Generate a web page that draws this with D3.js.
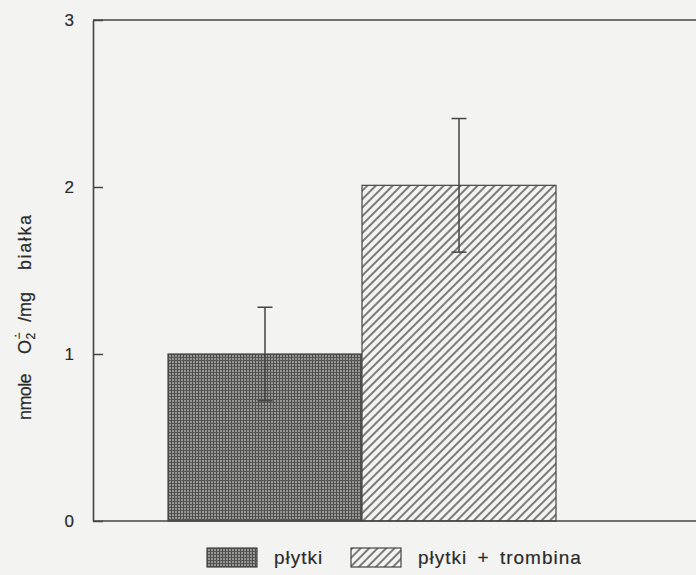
<!DOCTYPE html>
<html>
<head>
<meta charset="utf-8">
<script src="https://cdn.jsdelivr.net/npm/d3@7"></script>
<style>
  html, body { margin: 0; padding: 0; background: #f3f3f1; }
  svg { display: block; font-family: "Liberation Sans", Arial, Helvetica, sans-serif; }
</style>
</head>
<body>
<svg id="chart" width="696" height="575"></svg>
<script>
// Superoxide production by platelets, with and without thrombin
const categories = ["płytki", "płytki + trombina"];
const means = [1.0, 2.01];
const errors = [0.28, 0.40];
const yTicks = [0, 1, 2, 3];
const yMax = 3;

const W = 696, H = 575;
const ink = "#444";
const textInk = "#2b2b2b";
const paper = "#f3f3f1";

const svg = d3.select("#chart");
svg.append("rect").attr("width", W).attr("height", H).attr("fill", paper);

// fill patterns: fine grid for the control bar, diagonal hatch for thrombin
const defs = svg.append("defs");
const grid = defs.append("pattern")
  .attr("id", "grid").attr("patternUnits", "userSpaceOnUse")
  .attr("width", 3).attr("height", 3);
grid.append("rect").attr("width", 3).attr("height", 3).attr("fill", "#969694");
grid.append("rect").attr("x", 0).attr("y", 0).attr("width", 3).attr("height", 1).attr("fill", "#585858");
grid.append("rect").attr("x", 0).attr("y", 0).attr("width", 1).attr("height", 3).attr("fill", "#4e4e4e");

const hatch = defs.append("pattern")
  .attr("id", "hatch").attr("patternUnits", "userSpaceOnUse")
  .attr("width", 6).attr("height", 6)
  .attr("patternTransform", "rotate(45)");
hatch.append("rect").attr("width", 6).attr("height", 6).attr("fill", paper);
hatch.append("line").attr("x1", 1).attr("y1", 0).attr("x2", 1).attr("y2", 6)
  .attr("stroke", "#3a3a3a").attr("stroke-width", 1.3);

const fills = ["url(#grid)", "url(#hatch)"];

// scales
const plotLeft = 93, plotRight = W, plotTop = 20, plotBottom = 521;
const y = d3.scaleLinear().domain([0, yMax]).range([plotBottom, plotTop]);
const x = d3.scaleBand().domain(categories).range([168, 556]).padding(0);

const data = categories.map((c, i) => ({ cat: c, v: means[i], e: errors[i], fill: fills[i] }));

// bars
svg.append("g").selectAll("rect").data(data).join("rect")
  .attr("x", d => x(d.cat))
  .attr("y", d => y(d.v))
  .attr("width", x.bandwidth())
  .attr("height", d => y(0) - y(d.v))
  .attr("fill", d => d.fill)
  .attr("stroke", ink).attr("stroke-width", 1.2);

// error bars
const cx = d => x(d.cat) + x.bandwidth() / 2;
const eb = svg.append("g").attr("stroke", ink).attr("stroke-width", 1.5).selectAll("g")
  .data(data).join("g");
eb.append("line")
  .attr("x1", cx).attr("x2", cx)
  .attr("y1", d => y(d.v + d.e)).attr("y2", d => y(d.v - d.e));
eb.append("line")
  .attr("x1", d => cx(d) - 7.5).attr("x2", d => cx(d) + 7.5)
  .attr("y1", d => y(d.v + d.e)).attr("y2", d => y(d.v + d.e));
eb.append("line")
  .attr("x1", d => cx(d) - 7.5).attr("x2", d => cx(d) + 7.5)
  .attr("y1", d => y(d.v - d.e)).attr("y2", d => y(d.v - d.e));

// frame: top and bottom run to the page edge
const frame = svg.append("g").attr("stroke", ink).attr("stroke-width", 1.6).attr("fill", "none");
frame.append("line").attr("x1", plotLeft).attr("x2", plotRight).attr("y1", y(yMax)).attr("y2", y(yMax));
frame.append("line").attr("x1", plotLeft).attr("x2", plotRight).attr("y1", y(0)).attr("y2", y(0));

// y axis with inward ticks
const yAxis = d3.axisLeft(y).tickValues(yTicks).tickFormat(d3.format("d"))
  .tickSizeInner(-10).tickSizeOuter(0).tickPadding(19);
const gy = svg.append("g").attr("transform", `translate(${plotLeft},0)`).call(yAxis);
gy.select(".domain").attr("stroke", ink).attr("stroke-width", 1.6);
gy.selectAll(".tick line").attr("stroke", ink).attr("stroke-width", 1.5);
gy.selectAll(".tick text").attr("fill", textInk).attr("font-size", 17)
  .attr("stroke", textInk).attr("stroke-width", 0.2)
  .attr("font-family", "'Liberation Sans', Arial, sans-serif");

// y axis title: nmole O2•− / mg białka (positions along the rotated baseline)
const yt = svg.append("text")
  .attr("transform", "translate(31,420) rotate(-90)")
  .attr("fill", textInk).attr("stroke", textInk).attr("stroke-width", 0.2)
  .attr("font-size", 18);
yt.append("tspan").attr("x", 0).attr("y", 0).attr("letter-spacing", -0.6).text("nmole");
yt.append("tspan").attr("x", 66).attr("y", 0).text("O");
yt.append("tspan").attr("x", 80.5).attr("y", 4).attr("font-size", 12).text("2");
yt.append("tspan").attr("x", 80.5).attr("y", -8).attr("font-size", 12).text("−");
yt.append("tspan").attr("x", 82.2).attr("y", -12.5).attr("font-size", 12).text("·");
yt.append("tspan").attr("x", 98).attr("y", 0).text("/mg");
yt.append("tspan").attr("x", 150).attr("y", 0).attr("letter-spacing", 1.6).text("białka");

// legend
const legX = [207, 351];
const lg = svg.append("g").selectAll("g").data(data).join("g")
  .attr("transform", (d, i) => `translate(${legX[i]},548)`);
lg.append("rect").attr("width", 50).attr("height", 19)
  .attr("fill", d => d.fill).attr("stroke", ink).attr("stroke-width", 1.2);
lg.append("text").attr("x", 67).attr("y", 16)
  .attr("fill", textInk).attr("stroke", textInk).attr("stroke-width", 0.2)
  .attr("font-size", 19).attr("letter-spacing", 1).attr("word-spacing", 4)
  .text(d => d.cat);
</script>
</body>
</html>
